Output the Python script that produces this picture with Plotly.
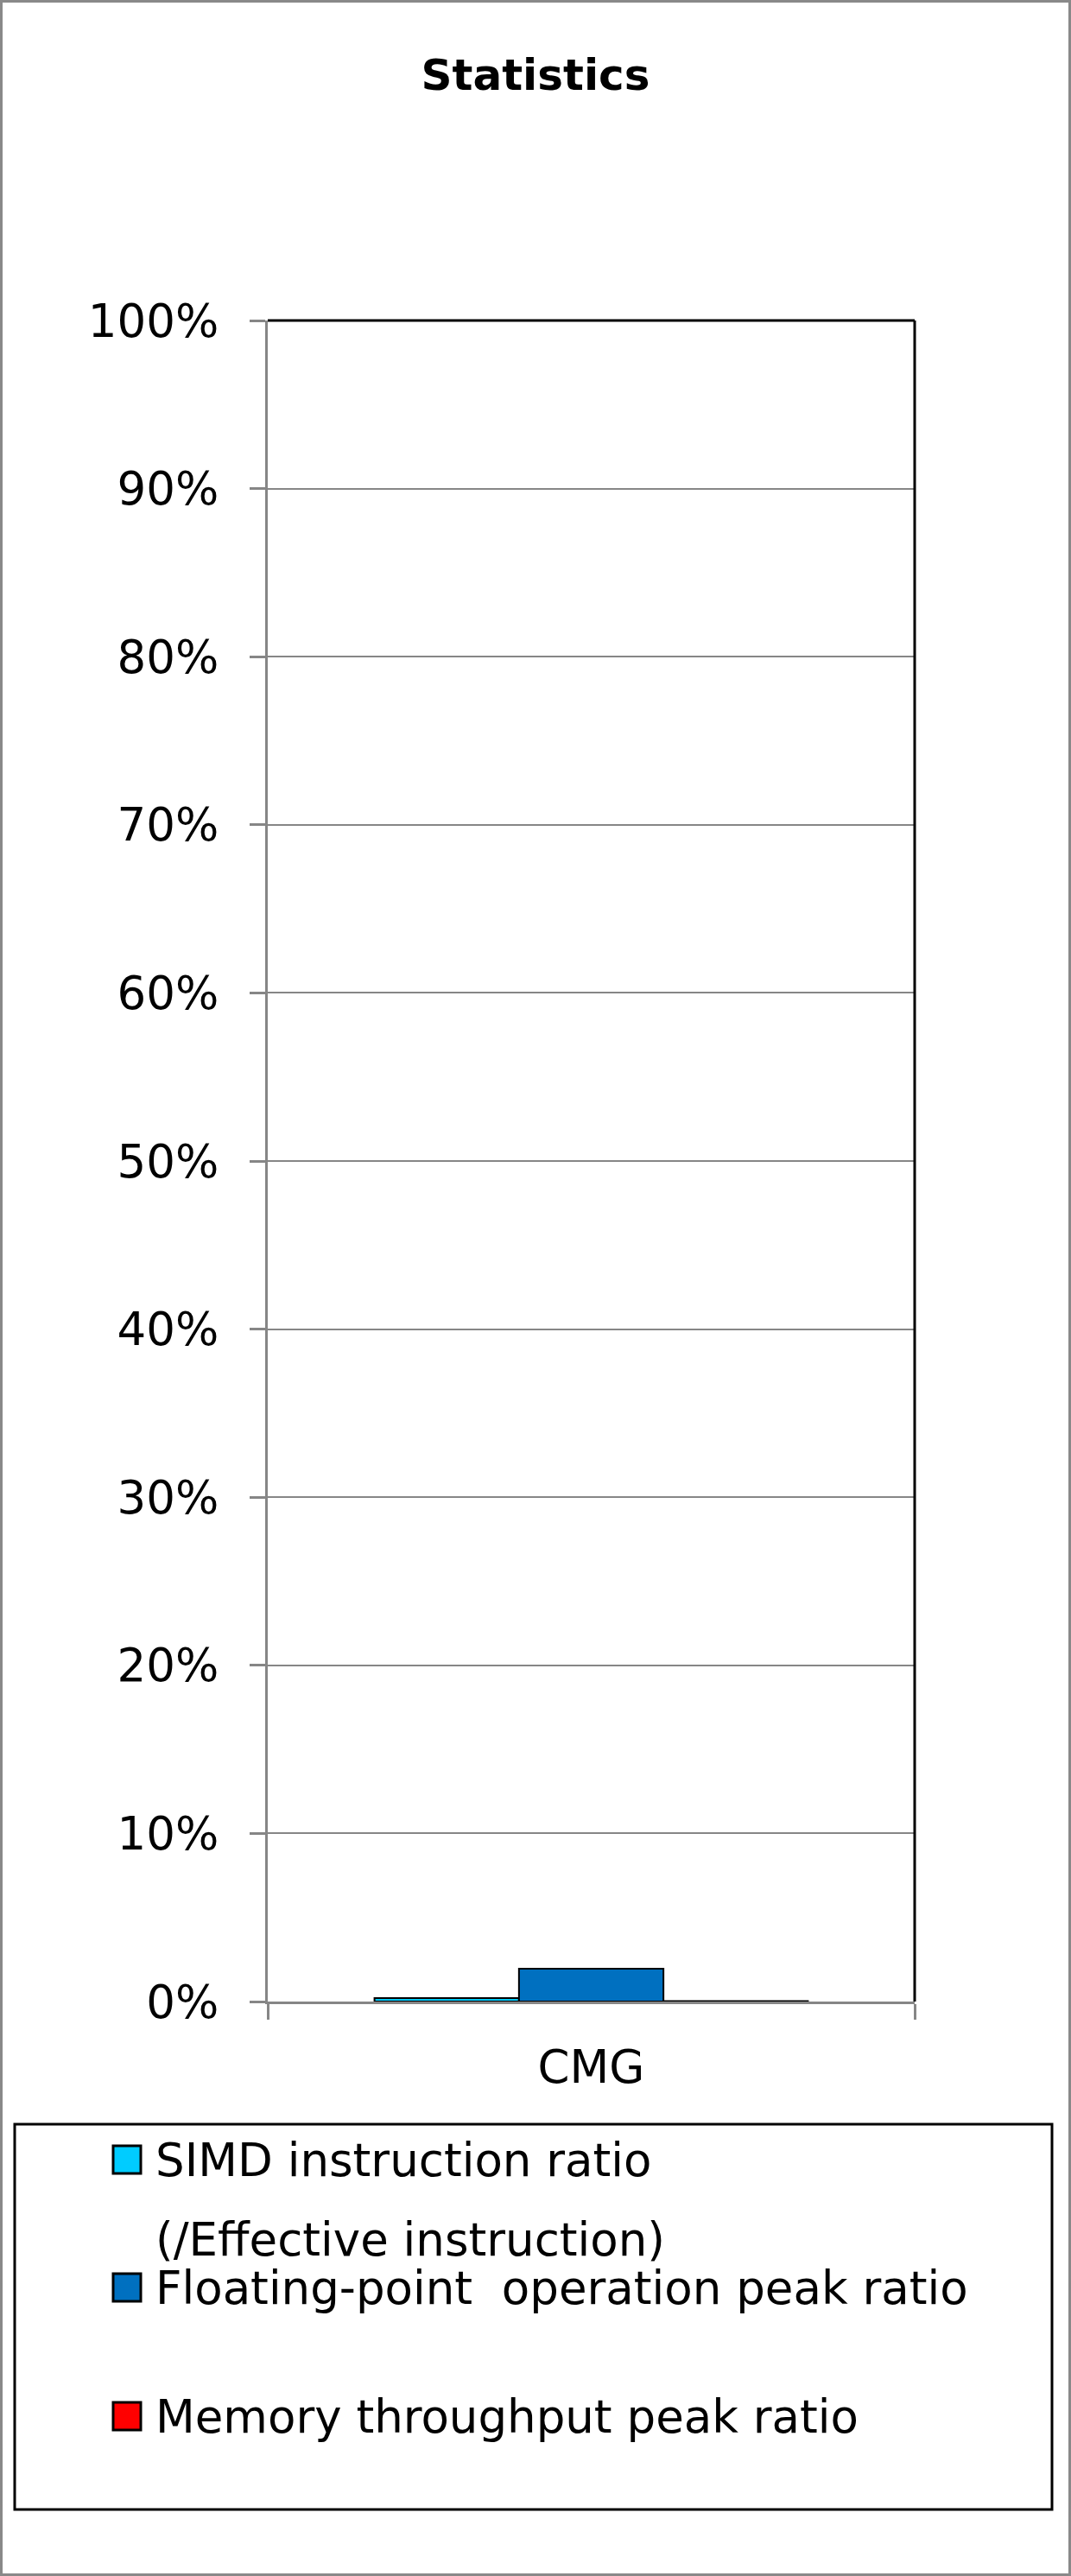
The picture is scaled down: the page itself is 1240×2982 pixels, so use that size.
import plotly.graph_objects as go

# data
categories = ["CMG"]
series_names = ["SIMD instruction ratio", "Floating-point  operation peak ratio", "Memory throughput peak ratio"]
series_values = [[0.2], [1.95], [0.03]]
series_colors = ["#00CCFF", "#0070C0", "#FF0000"]
legend_extra_line = "(/Effective instruction)"
y_tickvals = [0, 10, 20, 30, 40, 50, 60, 70, 80, 90, 100]
y_ticktext = ["0%", "10%", "20%", "30%", "40%", "50%", "60%", "70%", "80%", "90%", "100%"]

FIG_W, FIG_H = 1240, 2982
# plot area in pixels
L, R, T, B = 310, 1059, 371, 2317
PW, PH = R - L, B - T
FONT = "DejaVu Sans"
GRAY = "#868686"


def px(x):
    return (x - L) / PW


def py(y):
    return (B - y) / PH


fig = go.Figure()
for name, vals, col in zip(series_names, series_values, series_colors):
    fig.add_trace(go.Bar(x=categories, y=vals, name=name,
                         marker=dict(color=col, line=dict(color="black", width=2)),
                         showlegend=False))

shapes = []
# outer border of the whole image
shapes.append(dict(type="rect", xref="paper", yref="paper",
                   x0=px(1.5), x1=px(FIG_W - 1.5), y0=py(FIG_H - 1.5), y1=py(1.5),
                   line=dict(color="#898989", width=3)))
# top and right edges of the plot area are black
shapes.append(dict(type="line", xref="paper", yref="paper", x0=0, x1=1, y0=1, y1=1,
                   line=dict(color="black", width=3)))
shapes.append(dict(type="line", xref="paper", yref="paper", x0=1, x1=1, y0=0, y1=1,
                   line=dict(color="black", width=3)))
# legend box
shapes.append(dict(type="rect", xref="paper", yref="paper",
                   x0=px(17), x1=px(1218), y0=py(2905), y1=py(2459),
                   line=dict(color="black", width=3)))

# legend entries (swatch centre y, text rows)
legend_rows = [2500, 2648, 2797]
annotations = []
for name, col, yc in zip(series_names, series_colors, legend_rows):
    shapes.append(dict(type="rect", xref="paper", yref="paper",
                       x0=px(131), x1=px(163), y0=py(yc + 16), y1=py(yc - 16),
                       fillcolor=col, line=dict(color="black", width=3)))
    annotations.append(dict(text=name, xref="paper", yref="paper", x=px(178), y=py(yc),
                            xanchor="left", yanchor="middle", showarrow=False,
                            font=dict(family=FONT, size=53, color="black")))
annotations.append(dict(text=legend_extra_line, xref="paper", yref="paper", x=px(178), y=py(2593),
                        xanchor="left", yanchor="middle", showarrow=False,
                        font=dict(family=FONT, size=53, color="black")))

fig.update_layout(
    width=FIG_W, height=FIG_H,
    margin=dict(l=L, r=FIG_W - R, t=T, b=FIG_H - B),
    paper_bgcolor="white", plot_bgcolor="white",
    title=dict(text="<b>Statistics</b>", x=0.5, xanchor="center", xref="container",
               y=1 - 86 / FIG_H, yanchor="middle", yref="container",
               font=dict(family=FONT, size=50, color="black")),
    barmode="group", bargap=0.33, bargroupgap=0,
    shapes=shapes, annotations=annotations,
    font=dict(family=FONT, size=53, color="black"),
)
fig.update_xaxes(showline=True, linecolor=GRAY, linewidth=3,
                 ticks="outside", tickson="boundaries", ticklen=18, tickwidth=3, tickcolor=GRAY,
                 tickfont=dict(family=FONT, size=53, color="black"), ticklabelstandoff=27,
                 showgrid=False)
fig.update_yaxes(range=[0, 100], tickmode="array", tickvals=y_tickvals, ticktext=y_ticktext,
                 showline=True, linecolor=GRAY, linewidth=3,
                 ticks="outside", ticklen=18, tickwidth=3, tickcolor=GRAY,
                 tickfont=dict(family=FONT, size=53, color="black"), ticklabelstandoff=25,
                 showgrid=True, gridcolor=GRAY, gridwidth=2, zeroline=False)

# drop the default page margin so the figure sits at the window corner
fig.write_html("out.html", config={"displayModeBar": False},
               post_script="document.body.style.margin='0';")
